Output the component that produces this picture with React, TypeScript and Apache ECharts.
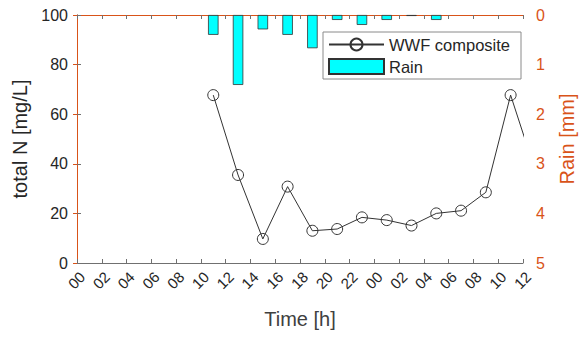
import React, { useEffect, useRef } from "react";
import * as echarts from "echarts";

const timeLabels = ["00","02","04","06","08","10","12","14","16","18","20","22","00","02","04","06","08","10","12"];
const nHours = [11, 13, 15, 17, 19, 21, 23, 25, 27, 29, 31, 33, 35, 37];
const totalN = [67.7, 35.5, 9.7, 30.8, 13.0, 13.7, 18.4, 17.3, 15.1, 20.0, 21.1, 28.5, 67.7, 37];
const rainHours = [11, 13, 15, 17, 19, 21, 23, 25, 27, 29];
const rain = [0.40, 1.41, 0.29, 0.40, 0.67, 0.10, 0.20, 0.10, 0.02, 0.10];

const ORANGE = "#D95319";
const AX = "#262626";
const FONT = "Liberation Sans, Arial, Helvetica, sans-serif";

export default function App() {
  const ref = useRef<HTMLDivElement>(null);
  useEffect(() => {
    if (!ref.current) return;
    const chart = echarts.init(ref.current, undefined, { renderer: "svg" });
    chart.setOption({
      animation: false,
      backgroundColor: "#fff",
      textStyle: { fontFamily: FONT },
      grid: { left: 77, right: 52, top: 15, bottom: 74, containLabel: false },
      legend: {
        orient: "vertical",
        left: 323,
        top: 32,
        padding: [4, 11, 4, 5],
        itemGap: 5,
        itemWidth: 55,
        itemHeight: 15,
        backgroundColor: "#fff",
        borderColor: "#8a8a8a",
        borderWidth: 1,
        textStyle: { fontSize: 16.5, color: AX, fontFamily: FONT },
        data: [{ name: "WWF composite" }, { name: "Rain", icon: "rect" }],
      },
      xAxis: [
        {
          type: "value",
          min: 0,
          max: 36,
          interval: 2,
          position: "bottom",
          name: "Time [h]",
          nameLocation: "middle",
          nameGap: 46,
          nameTextStyle: { fontSize: 20, color: "#404040", fontFamily: FONT },
          axisLine: { lineStyle: { color: "#707070", width: 1 } },
          axisTick: { inside: true, length: 4, lineStyle: { color: "#707070" } },
          axisLabel: {
            rotate: 45,
            fontSize: 15,
            color: AX,
            margin: 6,
            verticalAlign: "top",
            formatter: (v: number) => timeLabels[Math.round(v / 2)] ?? "",
          },
          splitLine: { show: false },
        },
        {
          type: "value",
          min: 0,
          max: 36,
          interval: 2,
          position: "top",
          axisLine: { lineStyle: { color: ORANGE, width: 1 } },
          axisTick: { inside: true, length: 4, lineStyle: { color: "#707070" } },
          axisLabel: { show: false },
          splitLine: { show: false },
        },
      ],
      yAxis: [
        {
          type: "value",
          min: 0,
          max: 100,
          interval: 20,
          position: "left",
          name: "total N [mg/L]",
          nameLocation: "middle",
          nameGap: 44,
          nameTextStyle: { fontSize: 20, color: AX, fontFamily: FONT },
          axisLine: { show: true, lineStyle: { color: "#707070", width: 1 } },
          axisTick: { show: true, inside: true, length: 4, lineStyle: { color: "#707070" } },
          axisLabel: { fontSize: 16, color: AX, margin: 9 },
          splitLine: { show: false },
        },
        {
          type: "value",
          min: 0,
          max: 5,
          interval: 1,
          inverse: true,
          position: "right",
          name: "Rain [mm]",
          nameLocation: "middle",
          nameGap: 34,
          nameTextStyle: { fontSize: 20, color: ORANGE, fontFamily: FONT },
          axisLine: { show: true, lineStyle: { color: ORANGE, width: 1 } },
          axisTick: { show: true, inside: true, length: 4, lineStyle: { color: ORANGE } },
          axisLabel: { fontSize: 16, color: ORANGE, margin: 13 },
          splitLine: { show: false },
        },
      ],
      series: [
        {
          name: "Rain",
          type: "bar",
          xAxisIndex: 0,
          yAxisIndex: 1,
          barWidth: 10.5,
          data: rainHours.map((h, i) => [h, rain[i]]),
          itemStyle: { color: "#00FFFF", borderColor: "#333", borderWidth: 0.8 },
          z: 2,
        },
        {
          name: "WWF composite",
          type: "line",
          xAxisIndex: 0,
          yAxisIndex: 0,
          data: nHours.map((h, i) => [h, totalN[i]]),
          symbol: "circle",
          symbolSize: 11,
          clip: true,
          lineStyle: { color: "#333", width: 1 },
          itemStyle: { color: "rgba(0,0,0,0)", borderColor: "#333", borderWidth: 1 },
          z: 3,
        },
      ],
    });
    return () => chart.dispose();
  }, []);
  return <div ref={ref} style={{ width: 585, height: 337, position: "absolute", left: 0, top: 0 }} />;
}
